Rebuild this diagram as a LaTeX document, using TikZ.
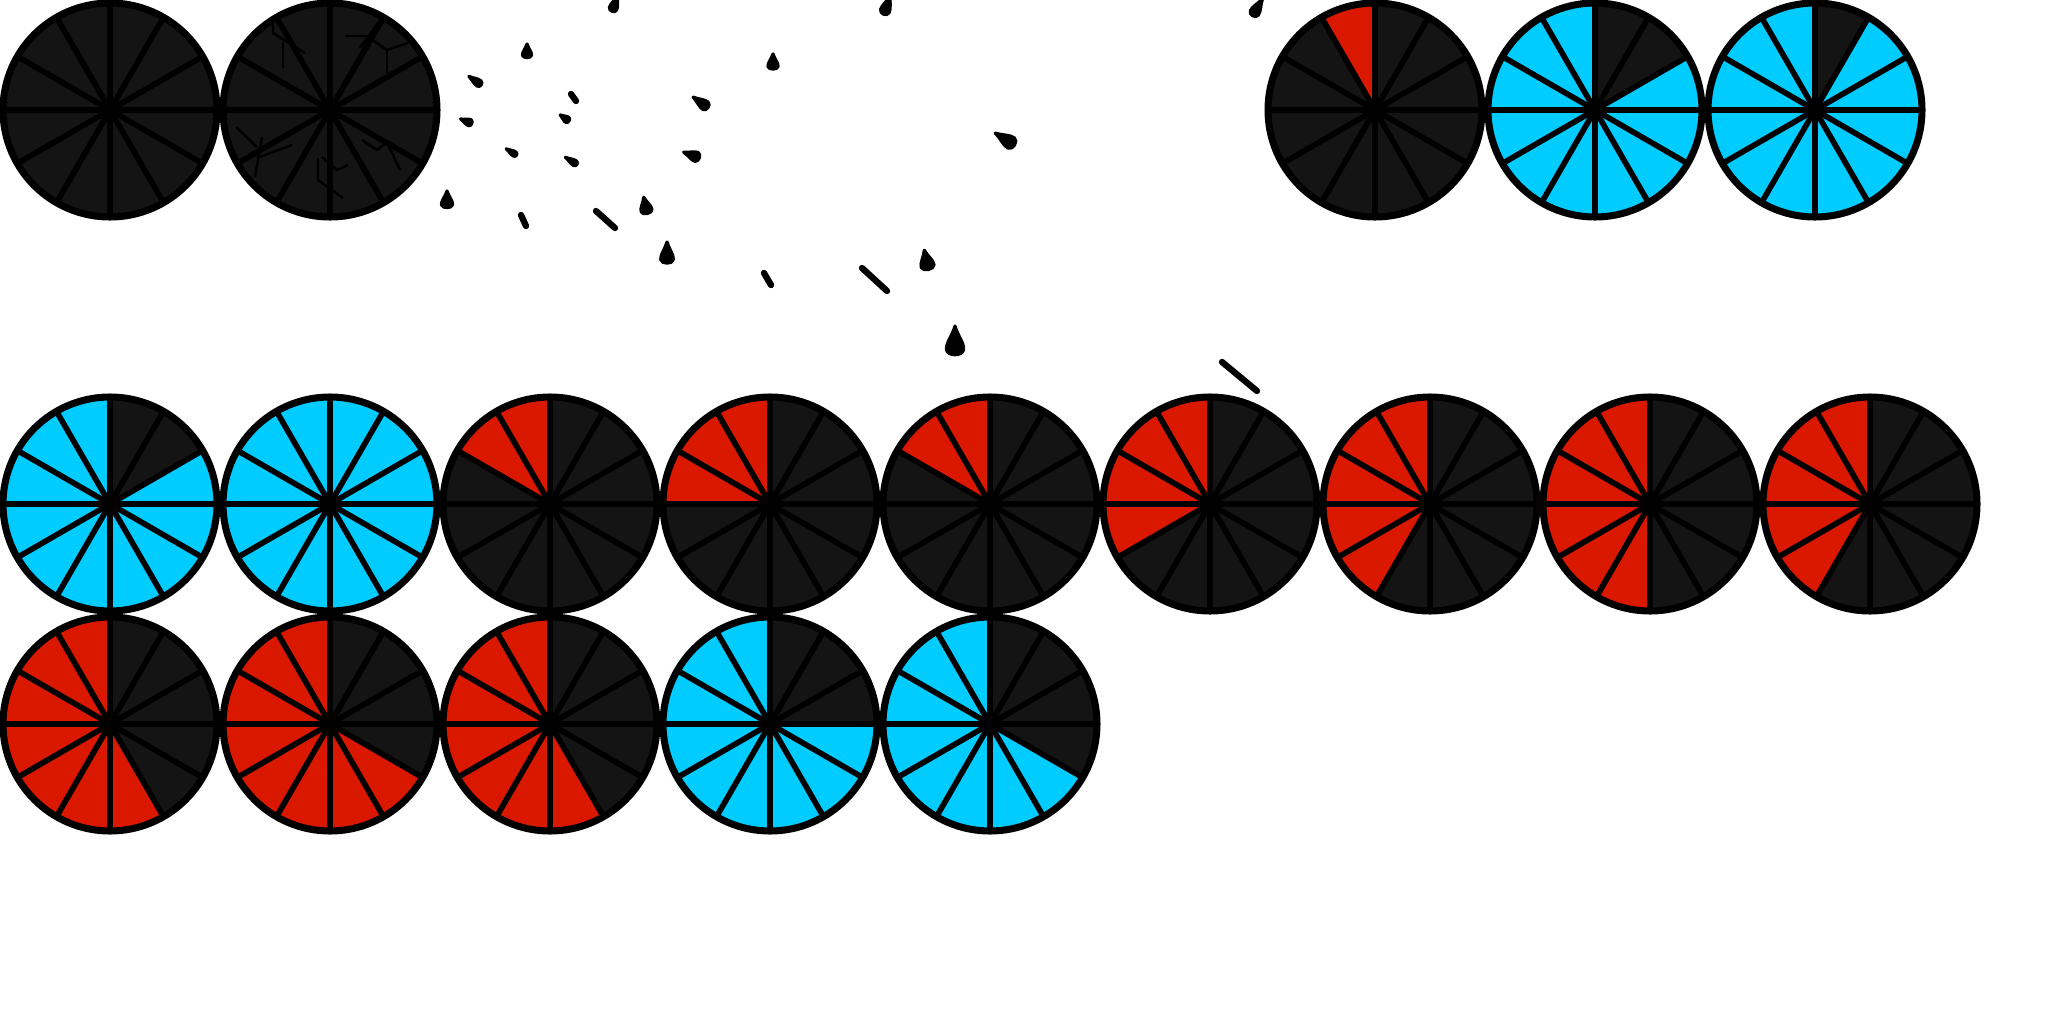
\documentclass[tikz,border=0pt]{standalone}
\usepackage{xcolor}
\definecolor{wk}{RGB}{20,20,20}
\definecolor{wr}{RGB}{218,24,0}
\definecolor{wc}{RGB}{0,204,255}
\usetikzlibrary{calc}

\tikzset{
  spoke/.style={line width=1.6pt},
  rim/.style={line width=2pt},
  crack/.style={line width=0.7pt,black},
  splash/.style={fill=black,draw=black,line width=0.9pt,line join=round},
  flick/.style={line width=1.8pt,line cap=round},
}

\newcommand{\wheel}[3]{%
  \begin{scope}[shift={(#1,#2)},yscale=-1]
    \foreach \col [count=\i from 0] in {#3}
      \fill[\col] (0,0) -- (\i*30:107) arc[start angle=\i*30,end angle=\i*30+30,radius=107] -- cycle;
    \foreach \a in {0,30,...,330}
      \draw[spoke] (0,0) -- (\a:107);
    \draw[rim] (0,0) circle[radius=107];
  \end{scope}}

\newcommand{\drop}[5]{%
  \filldraw[splash,shift={(#1,#2)},rotate=#3,scale=#4,xscale=#5]
    (0,-1) .. controls (0.15,-0.5) and (0.55,-0.1) .. (0.5,0.25)
    .. controls (0.45,0.6) and (-0.45,0.6) .. (-0.5,0.25)
    .. controls (-0.55,-0.1) and (-0.15,-0.5) .. (0,-1) -- cycle;}

\begin{document}
\begin{tikzpicture}[x=0.01cm,y=-0.01cm]
  \useasboundingbox (0,0) rectangle (2048,1024);

  \wheel{110}{110}{wk,wk,wk,wk,wk,wk,wk,wk,wk,wk,wk,wk}
  \wheel{330}{110}{wk,wk,wk,wk,wk,wk,wk,wk,wk,wk,wk,wk}
  \draw[crack] (273,23) -- (273,33) -- (305,53);
  \draw[crack] (283,42) -- (283,68);
  \draw[crack] (345,36) -- (367,36) -- (387,50) -- (408,43);
  \draw[crack] (360,48) -- (378,23);
  \draw[crack] (387,50) -- (387,73);
  \draw[crack] (236,127) -- (257,147);
  \draw[crack] (262,137) -- (255,177);
  \draw[crack] (257,158) -- (292,145);
  \draw[crack] (318,158) -- (318,180) -- (343,198);
  \draw[crack] (322,157) -- (337,170) -- (348,165);
  \draw[crack] (362,140) -- (377,150) -- (387,142) -- (400,170);
  \wheel{1375}{110}{wk,wk,wk,wr,wk,wk,wk,wk,wk,wk,wk,wk}
  \wheel{1595}{110}{wc,wk,wk,wc,wc,wc,wc,wc,wc,wc,wc,wc}
  \wheel{1815}{110}{wc,wc,wk,wc,wc,wc,wc,wc,wc,wc,wc,wc}

  \wheel{110}{504}{wc,wk,wk,wc,wc,wc,wc,wc,wc,wc,wc,wc}
  \wheel{330}{504}{wc,wc,wc,wc,wc,wc,wc,wc,wc,wc,wc,wc}
  \wheel{550}{504}{wk,wk,wk,wr,wr,wk,wk,wk,wk,wk,wk,wk}
  \wheel{770}{504}{wk,wk,wk,wr,wr,wr,wk,wk,wk,wk,wk,wk}
  \wheel{990}{504}{wk,wk,wk,wr,wr,wk,wk,wk,wk,wk,wk,wk}
  \wheel{1210}{504}{wk,wk,wk,wr,wr,wr,wr,wk,wk,wk,wk,wk}
  \wheel{1430}{504}{wk,wk,wk,wr,wr,wr,wr,wr,wk,wk,wk,wk}
  \wheel{1650}{504}{wk,wk,wk,wr,wr,wr,wr,wr,wr,wk,wk,wk}
  \wheel{1870}{504}{wk,wk,wk,wr,wr,wr,wr,wr,wk,wk,wk,wk}

  \wheel{110}{724}{wk,wk,wk,wr,wr,wr,wr,wr,wr,wr,wk,wk}
  \wheel{330}{724}{wk,wk,wk,wr,wr,wr,wr,wr,wr,wr,wr,wk}
  \wheel{550}{724}{wk,wk,wk,wr,wr,wr,wr,wr,wr,wr,wk,wk}
  \wheel{770}{724}{wk,wk,wk,wc,wc,wc,wc,wc,wc,wc,wc,wc}
  \wheel{990}{724}{wk,wk,wk,wc,wc,wc,wc,wc,wc,wc,wc,wk}

  \drop{614}{6}{-20}{11}{0.7}
  \drop{886}{8}{-20}{13}{0.7}
  \drop{1256}{10}{-30}{13}{0.7}
  \drop{527}{53}{0}{9}{1}
  \drop{773}{64}{0}{10}{1}
  \drop{477}{82}{55}{10}{0.65}
  \drop{703}{104}{55}{12}{0.75}
  \drop{468}{122}{68}{8}{0.8}
  \drop{566}{119}{55}{7}{0.85}
  \drop{1008}{141}{58}{15}{0.8}
  \drop{513}{153}{58}{8}{0.6}
  \drop{573}{162}{58}{9}{0.6}
  \drop{694}{156}{70}{11}{0.85}
  \drop{447}{202}{0}{11}{1}
  \drop{646}{208}{12}{11}{1}
  \drop{667}{256}{0}{14}{0.9}
  \drop{927}{263}{12}{13}{1}
  \drop{955}{345}{0}{19}{0.9}
  \draw[flick] (571,94) -- (576,101);
  \draw[flick] (521,215) -- (526,226);
  \draw[flick] (596,211) -- (615,228);
  \draw[flick] (764,273) -- (771,285);
  \draw[flick] (862,268) -- (887,291);
  \draw[flick] (1222,362) -- (1257,391);
\end{tikzpicture}
\end{document}
